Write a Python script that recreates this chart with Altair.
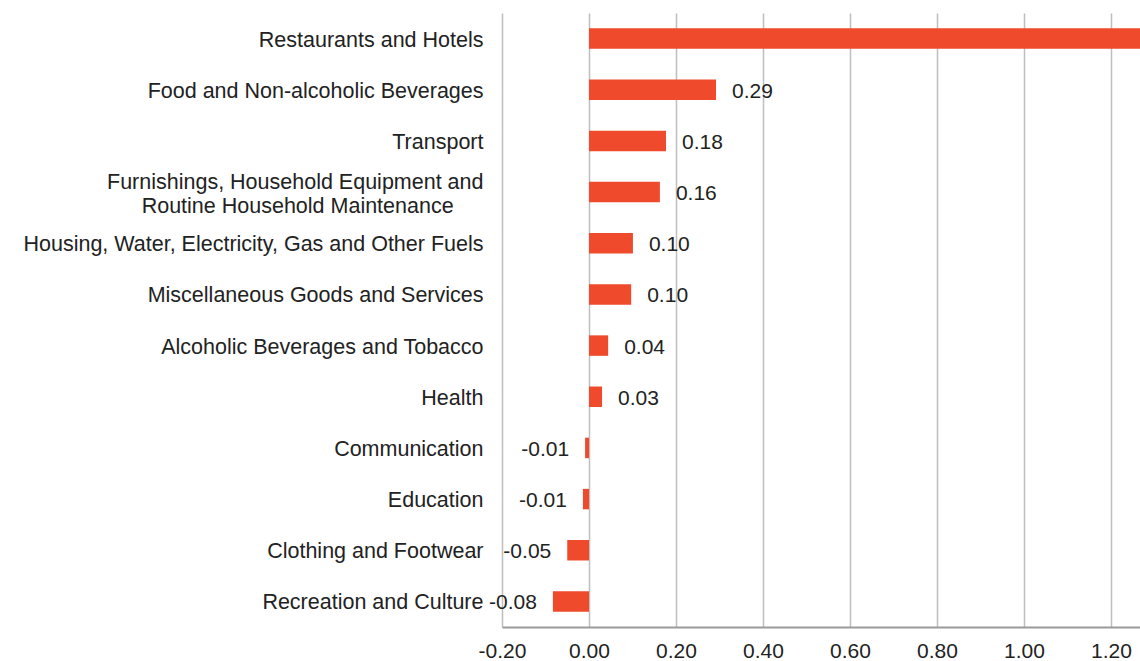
import altair as alt
import pandas as pd

categories = [
    "Restaurants and Hotels",
    "Food and Non-alcoholic Beverages",
    "Transport",
    "Furnishings, Household Equipment and Routine Household Maintenance",
    "Housing, Water, Electricity, Gas and Other Fuels",
    "Miscellaneous Goods and Services",
    "Alcoholic Beverages and Tobacco",
    "Health",
    "Communication",
    "Education",
    "Clothing and Footwear",
    "Recreation and Culture",
]
values = [1.40, 0.292, 0.177, 0.163, 0.101, 0.097, 0.044, 0.030, -0.009, -0.014, -0.050, -0.083]
value_labels = ["1.40", "0.29", "0.18", "0.16", "0.10", "0.10", "0.04", "0.03", "-0.01", "-0.01", "-0.05", "-0.08"]
x_ticks = [-0.2, 0.0, 0.2, 0.4, 0.6, 0.8, 1.0, 1.2]
X_MAX = 1.2667

df = pd.DataFrame({"cat": categories, "val": values, "lab": value_labels})
df["side"] = ["pos" if v >= 0 else "neg" for v in values]

FONT = "Liberation Sans"
LONG = "Furnishings, Household Equipment and Routine Household Maintenance"
# non-breaking spaces kept from trimming by a trailing zero-width space
pad = "\u00a0" * 5 + "\u200b"
label_expr = (
    f"datum.value == '{LONG}' ? "
    "['Furnishings, Household Equipment and', 'Routine Household Maintenance" + pad + "'] : datum.value"
)

x_enc = alt.X(
    "val:Q",
    scale=alt.Scale(domain=[-0.2, X_MAX], nice=False, zero=False),
    axis=alt.Axis(
        values=x_ticks, title=None, grid=True, ticks=False,
        labelExpr="replace(format(datum.value, '.2f'), '\u2212', '-')",
        gridColor="#BEBEBE", gridWidth=1.5, domainColor="#9A9A9A", domainWidth=2,
        labelFont=FONT, labelFontSize=21, labelColor="#222222", labelPadding=13,
        labelFlush=False, labelOverlap=False,
    ),
)
y_enc = alt.Y(
    "cat:N",
    sort=categories,
    scale=alt.Scale(paddingInner=0.6, paddingOuter=0.3),
    axis=alt.Axis(
        title=None, domain=False, ticks=False, grid=False,
        labelFont=FONT, labelFontSize=21.5, labelColor="#222222", labelPadding=19,
        labelLimit=0, labelExpr=label_expr, labelLineHeight=23.5,
        labelOffset={"condition": {"test": f"datum.value == '{LONG}'", "value": -9}, "value": 2},
    ),
)

base = alt.Chart(df)
bars = base.mark_bar(color="#EF4A2B", clip=True).encode(x=x_enc, y=y_enc)
pos_text = base.transform_filter(f"datum.side == 'pos' && datum.val < {X_MAX - 0.1}").mark_text(
    align="left", dx=16, dy=2, font=FONT, fontSize=21, color="#222222"
).encode(x=alt.X("val:Q"), y=alt.Y("cat:N", sort=categories), text="lab:N")
neg_text = base.transform_filter("datum.side == 'neg'").mark_text(
    align="right", dx=-16, dy=2, font=FONT, fontSize=21, color="#222222"
).encode(x=alt.X("val:Q"), y=alt.Y("cat:N", sort=categories), text="lab:N")

chart = (
    alt.layer(bars, pos_text, neg_text)
    .properties(
        width=638, height=614,
        padding={"left": 502, "top": 13, "right": 0, "bottom": 34},
        autosize=alt.AutoSizeParams(type="none"),
        background="white",
    )
    .configure_view(stroke=None)
)

chart.save("out.html", embed_options={"renderer": "svg", "actions": False})
